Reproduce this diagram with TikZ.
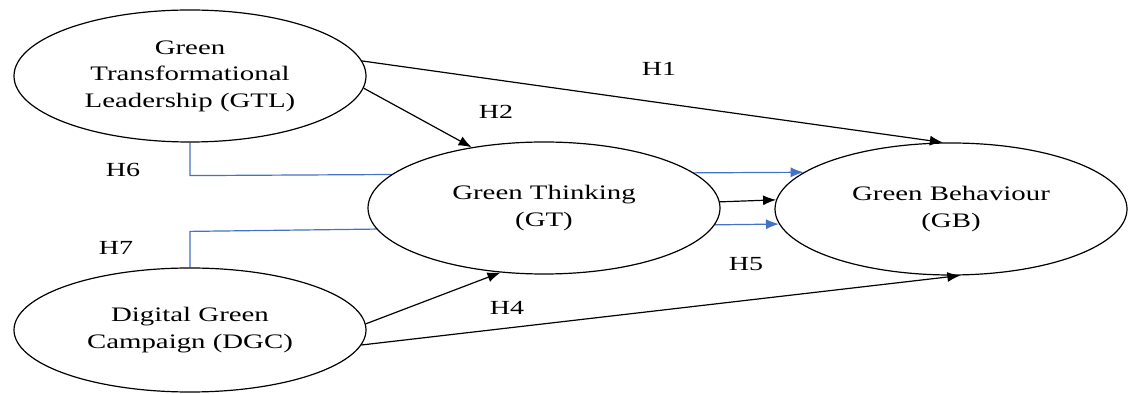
\documentclass[tikz,border=0pt]{standalone}
\usepackage{fontspec}
\setmainfont{Liberation Serif}
\newfontfamily\widefont[FakeStretch=1.4]{Liberation Serif}
\usetikzlibrary{shapes.geometric,arrows.meta,backgrounds}
\definecolor{linkblue}{RGB}{68,114,196}

\begin{document}
\begin{tikzpicture}[
    x=0.5pt, y=-0.5pt,
    construct/.style={ellipse, draw, fill=white, line width=0.6pt, inner sep=0pt,
                      minimum width=176pt, minimum height=66pt, align=center,
                      font=\widefont\fontsize{10.3}{13.25}\selectfont},
    arrow/.style={-{Latex[length=6.5pt,width=5pt]}, line width=0.6pt},
    modarrow/.style={arrow, draw=linkblue},
    hyp/.style={font=\widefont\fontsize{10}{12}\selectfont}
]
\useasboundingbox (0,0) rectangle (1133,394);

%% ── Constructs ───────────────────────────────────────────────────
\node[construct] (gtl) at (190,76)  {Green\\Transformational\\Leadership (GTL)};
\node[construct] (gt)  at (544,208) {Green Thinking\\(GT)};
\node[construct] (gb)  at (951,209) {Green Behaviour\\(GB)};
\node[construct, minimum height=62pt] (dgc) at (190,330) {Digital Green\\Campaign (DGC)};

%% ── Direct paths ─────────────────────────────────────────────────
\draw[arrow] (gtl.5)  -- (gb.97);
\draw[arrow] (gtl.-4) -- (gt.140);
\draw[arrow] (dgc.2)  -- (gt.236);
\draw[arrow] (dgc.-5) -- (gb.-82);
\draw[arrow] (gt.2)   -- (gb.177);

%% ── Mediated paths (behind GT) ───────────────────────────────────
\begin{scope}[on background layer]
\draw[modarrow] (gtl.south) -- ++(0,33)  -- (gb.166);
\draw[modarrow] (dgc.north) -- ++(0,-36) -- (gb.185);
\end{scope}

%% ── Hypothesis labels ────────────────────────────────────────────
\node[hyp] (h1) at (659,69)  {H1};
\node[hyp] (h2) at (496,112) {H2};
\node[hyp] (h4) at (507,308) {H4};
\node[hyp] (h5) at (746,264) {H5};
\node[hyp] (h6) at (123,170) {H6};
\node[hyp] (h7) at (116,248) {H7};

\end{tikzpicture}
\end{document}
